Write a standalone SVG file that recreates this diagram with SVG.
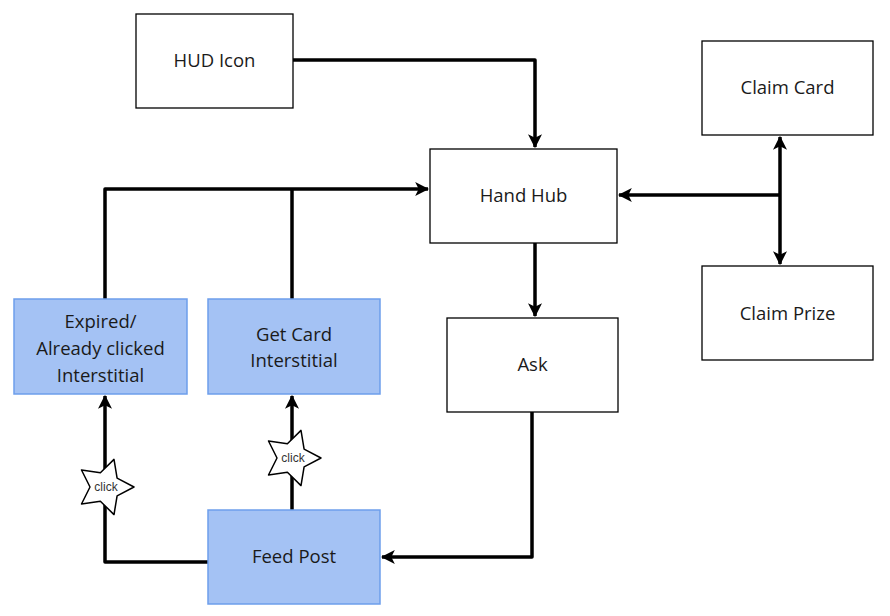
<svg xmlns="http://www.w3.org/2000/svg" xmlns:xlink="http://www.w3.org/1999/xlink" width="890" height="616" viewBox="0 0 890 616">
<style>
.box{fill:#ffffff;stroke:#000;stroke-width:1.3}
.blue{fill:#a4c2f4;stroke:#6d9eeb;stroke-width:1.5}
.lbl{font-family:"Open Sans","Liberation Sans",sans-serif;font-size:18.5px;fill:#1a1a1a;text-anchor:middle}
.edge{fill:none;stroke:#000;stroke-width:3.5;stroke-linejoin:round}
.star{fill:#fff;stroke:#000;stroke-width:1.5;stroke-linejoin:round}
.clk{font-family:"Liberation Sans",sans-serif;font-size:12px;fill:#333;text-anchor:middle}
</style>
<defs>
<marker id="ah" viewBox="0 0 12 12" refX="11" refY="6" markerWidth="4" markerHeight="4" markerUnits="strokeWidth" orient="auto-start-reverse">
<path d="M0,0 L12,6 L0,12 L3,6 Z" fill="#000"/>
</marker>
<polygon id="starShape" class="star" points="29,0 12.1,8.8 9,27.6 -4.6,14.3 -23.5,17 -15,0 -23.5,-17 -4.6,-14.3 9,-27.6 12.1,-8.8"/>
</defs>
<rect width="890" height="616" fill="#fff"/>
<g id="connectors">
<path class="edge" d="M293,60 H535 V147" marker-end="url(#ah)"/>
<path class="edge" d="M535,243 V316" marker-end="url(#ah)"/>
<path class="edge" d="M780,195 H619" marker-end="url(#ah)"/>
<path class="edge" d="M780,195 V137" marker-end="url(#ah)"/>
<path class="edge" d="M780,195 V264" marker-end="url(#ah)"/>
<path class="edge" d="M532,412 V557 H382" marker-end="url(#ah)"/>
<path class="edge" d="M208,562 H105 V396" marker-end="url(#ah)"/>
<path class="edge" d="M292,510 V396" marker-end="url(#ah)"/>
<path class="edge" d="M105,299 V189 H428" marker-end="url(#ah)"/>
<path class="edge" d="M292,299 V189"/>
</g>
<g id="star1"><use xlink:href="#starShape" transform="translate(105,487)"/><text class="clk" x="106" y="491">click</text></g>
<g id="star2"><use xlink:href="#starShape" transform="translate(292,458)"/><text class="clk" x="293" y="462">click</text></g>
<g id="hud"><rect class="box" x="136" y="14" width="157" height="94"/><text class="lbl" x="214.5" y="67">HUD Icon</text></g>
<g id="hub"><rect class="box" x="430" y="149" width="187" height="94"/><text class="lbl" x="523.5" y="202">Hand Hub</text></g>
<g id="claimcard"><rect class="box" x="702" y="41" width="171" height="94"/><text class="lbl" x="787.5" y="94">Claim Card</text></g>
<g id="claimprize"><rect class="box" x="702" y="266" width="171" height="94"/><text class="lbl" x="787.5" y="320">Claim Prize</text></g>
<g id="ask"><rect class="box" x="447" y="318" width="171" height="94"/><text class="lbl" x="532.5" y="371">Ask</text></g>
<g id="expired"><rect class="blue" x="14" y="299" width="173" height="95"/><text class="lbl" x="100.5" y="328">Expired/</text><text class="lbl" x="100.5" y="355">Already clicked</text><text class="lbl" x="100.5" y="382">Interstitial</text></g>
<g id="getcard"><rect class="blue" x="208" y="299" width="172" height="95"/><text class="lbl" x="294" y="341">Get Card</text><text class="lbl" x="294" y="367">Interstitial</text></g>
<g id="feed"><rect class="blue" x="208" y="510" width="172" height="94"/><text class="lbl" x="294" y="563">Feed Post</text></g>
</svg>
